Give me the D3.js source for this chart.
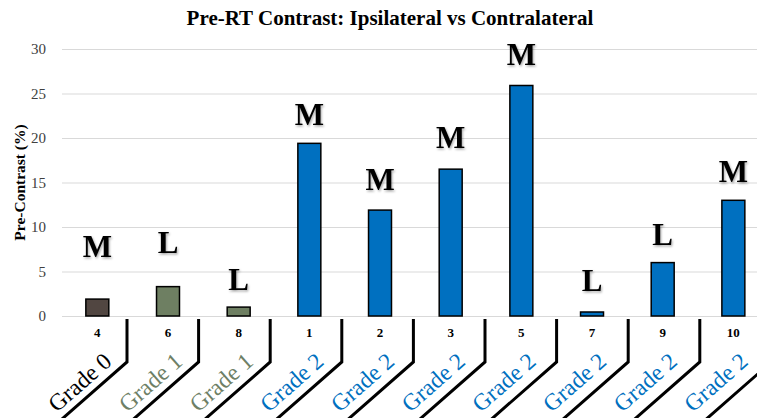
<!DOCTYPE html>
<html>
<head>
<meta charset="utf-8">
<script src="https://cdn.jsdelivr.net/npm/d3@7"></script>
<style>
  body { margin: 0; background: #fff; }
  svg { display: block; }
  svg text { font-family: "Liberation Serif", "DejaVu Serif", serif; }
</style>
</head>
<body>
<div class="container"></div>
<script>
const ids = ['4', '6', '8', '1', '2', '3', '5', '7', '9', '10'];
const grades = ['Grade 0', 'Grade 1', 'Grade 1', 'Grade 2', 'Grade 2', 'Grade 2', 'Grade 2', 'Grade 2', 'Grade 2', 'Grade 2'];
const values = [1.9, 3.3, 1.0, 19.4, 11.9, 16.5, 25.9, 0.45, 6.0, 13.0];
const marks = ['M', 'L', 'L', 'M', 'M', 'M', 'M', 'L', 'L', 'M'];
const markAt = [6.6, 7.1, 2.9, 21.5, 14.2, 18.9, 28.2, 2.8, 8.0, 15.1];
const yTicks = [0, 5, 10, 15, 20, 25, 30];

const width = 757,
    height = 418,
    barColor = { 'Grade 0': '#514641', 'Grade 1': '#6e7f62', 'Grade 2': '#0070c0' },
    textColor = { 'Grade 0': '#000000', 'Grade 1': '#6e7f66', 'Grade 2': '#0070c0' };

const data = ids.map((id, i) => ({ id, grade: grades[i], value: values[i], mark: marks[i], markAt: markAt[i] }));

const svg = d3.select('.container')
    .append('svg')
    .attr('width', width)
    .attr('height', height);

const defs = svg.append('defs');
defs.append('filter')
    .attr('id', 'shadow')
    .append('feDropShadow')
    .attr('dx', 1).attr('dy', 1.5).attr('stdDeviation', 1)
    .attr('flood-color', '#000').attr('flood-opacity', 0.35);

const x = d3.scaleBand()
    .domain(ids)
    .range([62, 768.7])
    .paddingInner(0.675)
    .paddingOuter(0.3375);

const y = d3.scaleLinear()
    .domain([0, 30])
    .range([316, 49]);

// gridlines
svg.append('g')
    .selectAll('line')
    .data(yTicks)
    .enter()
    .append('line')
    .attr('x1', 62)
    .attr('x2', width)
    .attr('y1', d => y(d) + 0.5)
    .attr('y2', d => y(d) + 0.5)
    .attr('stroke', '#d9d9d9')
    .attr('stroke-width', 1);

// y axis
const yAxis = svg.append('g')
    .attr('transform', 'translate(62,0)')
    .call(d3.axisLeft(y).tickValues(yTicks).tickSize(0).tickPadding(16));
yAxis.select('.domain').remove();
yAxis.selectAll('text')
    .attr('font-family', '"Liberation Serif", serif')
    .attr('font-size', 15)
    .attr('fill', '#404040');

svg.append('text')
    .attr('transform', `translate(25,${(y(0) + y(30)) / 2}) rotate(-90)`)
    .attr('text-anchor', 'middle')
    .attr('font-size', 15.5)
    .attr('font-weight', 'bold')
    .text('Pre-Contrast (%)');

// title
svg.append('text')
    .attr('x', 390)
    .attr('y', 25)
    .attr('text-anchor', 'middle')
    .attr('font-size', 21)
    .attr('font-weight', 'bold')
    .text('Pre-RT Contrast: Ipsilateral vs Contralateral');

// bars
svg.append('g')
    .selectAll('rect')
    .data(data)
    .enter()
    .append('rect')
    .attr('x', d => x(d.id))
    .attr('y', d => y(d.value))
    .attr('width', x.bandwidth())
    .attr('height', d => y(0) - y(d.value))
    .attr('fill', d => barColor[d.grade])
    .attr('stroke', '#000')
    .attr('stroke-width', 1.5);

// M / L labels
svg.append('g')
    .selectAll('text')
    .data(data)
    .enter()
    .append('text')
    .attr('x', d => x(d.id) + x.bandwidth() / 2)
    .attr('y', d => y(d.markAt))
    .attr('text-anchor', 'middle')
    .attr('font-size', 31)
    .attr('font-weight', 'bold')
    .attr('filter', 'url(#shadow)')
    .text(d => d.mark);

// patient numbers
svg.append('g')
    .selectAll('text')
    .data(data)
    .enter()
    .append('text')
    .attr('x', d => x(d.id) + x.bandwidth() / 2)
    .attr('y', 337)
    .attr('text-anchor', 'middle')
    .attr('font-size', 13)
    .attr('font-weight', 'bold')
    .text(d => d.id);

// grade cells with separators
const cell = d3.scaleBand()
    .domain(ids)
    .range([55.4, 771.4]);

const slope = 0.877; // dy/dx of the slanted separators
const angle = Math.atan(slope) * 180 / Math.PI;

svg.append('g')
    .selectAll('path')
    .data(data)
    .enter()
    .append('path')
    .attr('transform', d => `translate(${cell(d.id) + cell.bandwidth()}, 362)`)
    .attr('d', `M0,-43 L0,0 L${-80},${80 * slope}`)
    .attr('fill', 'none')
    .attr('stroke', '#000')
    .attr('stroke-width', 3);

svg.append('g')
    .selectAll('text')
    .data(data)
    .enter()
    .append('text')
    .attr('transform', d => `translate(${x(d.id) + x.bandwidth() / 2 - 17}, 383) rotate(${-angle})`)
    .attr('text-anchor', 'middle')
    .attr('dy', '0.3em')
    .attr('font-size', 23.5)
    .attr('fill', d => textColor[d.grade])
    .text(d => d.grade);
</script>
</body>
</html>
